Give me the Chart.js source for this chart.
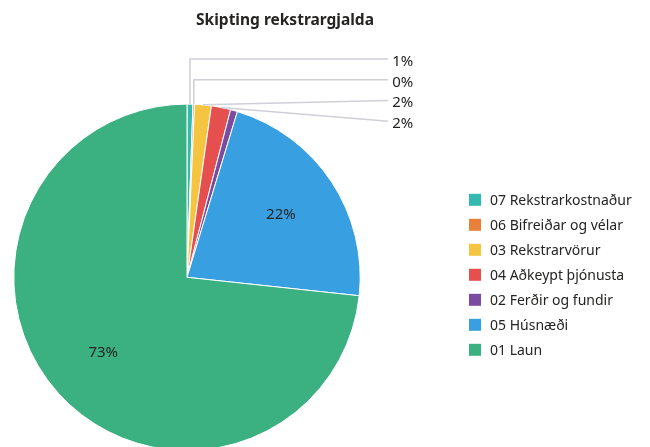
<!DOCTYPE html>
<html>
<head>
<meta charset="utf-8">
<script src="https://cdn.jsdelivr.net/npm/chart.js@4"></script>
<style>
    html, body { margin: 0; padding: 0; background: #fff; overflow: hidden; }
    #wrap { width: 650px; height: 447px; overflow: hidden; }
</style>
</head>
<body>
<div id="wrap"><canvas id="chart" width="650" height="460"></canvas></div>
<script>
// Data (share of total, %)
const categories = [
    '07 Rekstrarkostnaður',
    '06 Bifreiðar og vélar',
    '03 Rekstrarvörur',
    '04 Aðkeypt þjónusta',
    '02 Ferðir og fundir',
    '05 Húsnæði',
    '01 Laun'
];
const shares = [0.55, 0.15, 1.55, 1.8, 0.65, 22.0, 73.3];
const colors = ['#34b9b1', '#e8803a', '#f5c542', '#e5504f', '#7a4b9f', '#38a0e0', '#3bb080'];
// small slices get an outside label with a leader line; this one has none
const hiddenLabels = ['02 Ferðir og fundir'];

const FONT = "'Noto Sans', 'Open Sans', sans-serif";
const TEXT = '#252423';

const pctText = (v, total) => Math.round(v / total * 100) + '%';

/**
 * Title sits over the pie + legend block, not over the pie alone
 */
const titleShift = {
    id: 'titleShift',
    afterLayout(chart) {
        const t = chart.titleBlock;
        const dx = 285 - (t.left + t.right) / 2;
        t.left += dx;
        t.right += dx;
    }
};

/**
 * Percent labels: inside the big slices, outside with leader lines for the small ones
 */
const sliceLabels = {
    id: 'sliceLabels',
    afterDatasetsDraw(chart) {
        const ctx = chart.ctx;
        const arcs = chart.getDatasetMeta(0).data;
        const values = chart.data.datasets[0].data;
        const total = values.reduce((a, b) => a + b, 0);
        ctx.save();
        ctx.font = '15px ' + FONT;
        ctx.fillStyle = TEXT;
        ctx.textBaseline = 'middle';

        let slot = 0;
        arcs.forEach((arc, i) => {
            const v = values[i];
            const mid = (arc.startAngle + arc.endAngle) / 2;
            const r = arc.outerRadius;
            if (v / total >= 0.05) {
                ctx.textAlign = 'center';
                ctx.fillText(pctText(v, total), arc.x + Math.cos(mid) * r * 0.65, arc.y + Math.sin(mid) * r * 0.65);
                return;
            }
            if (hiddenLabels.includes(chart.data.labels[i])) return;

            const sx = arc.x + Math.cos(mid) * r;
            const sy = arc.y + Math.sin(mid) * r;
            const ly = arc.y - r - 45 + slot * 20.7;
            const ex = arc.x + r + 28;
            slot++;

            ctx.strokeStyle = '#cfd0d8';
            ctx.lineWidth = 1.5;
            ctx.beginPath();
            ctx.moveTo(sx, sy);
            if (sy - ly > 10) ctx.lineTo(sx, ly);
            ctx.lineTo(ex, ly);
            ctx.stroke();

            ctx.textAlign = 'left';
            ctx.fillText(pctText(v, total), ex + 4, ly + 2.5);
        });
        ctx.restore();
    }
};

/**
 * Legend drawn to the right of the labels, rows centred on the pie
 */
const sideLegend = {
    id: 'sideLegend',
    afterDraw(chart) {
        const ctx = chart.ctx;
        const labels = chart.data.labels;
        const bg = chart.data.datasets[0].backgroundColor;
        const area = chart.chartArea;
        const rowH = 25;
        const x = area.right + 108;
        const top = (area.top + area.bottom) / 2 - 2.5 - (labels.length - 1) / 2 * rowH;
        ctx.save();
        ctx.font = '14px ' + FONT;
        ctx.textBaseline = 'middle';
        ctx.textAlign = 'left';
        labels.forEach((label, i) => {
            const y = top + i * rowH;
            ctx.fillStyle = bg[i];
            ctx.fillRect(x, y - 6, 12, 12);
            ctx.fillStyle = TEXT;
            ctx.fillText(label, x + 21, y + 1);
        });
        ctx.restore();
    }
};

new Chart(document.getElementById('chart').getContext('2d'), {
    type: 'pie',
    data: {
        labels: categories,
        datasets: [{
            data: shares,
            backgroundColor: colors,
            borderColor: '#ffffff',
            borderWidth: 1,
            hoverOffset: 0
        }]
    },
    options: {
        responsive: false,
        animation: false,
        layout: {
            padding: { left: 13, right: 289, top: 0, bottom: 9 }
        },
        plugins: {
            legend: { display: false },
            tooltip: { enabled: false },
            title: {
                display: true,
                text: 'Skipting rekstrargjalda',
                color: TEXT,
                font: { family: FONT, size: 15.5, weight: 'bold' },
                padding: { top: 11, bottom: 74 }
            }
        }
    },
    plugins: [titleShift, sliceLabels, sideLegend]
});
</script>
</body>
</html>
